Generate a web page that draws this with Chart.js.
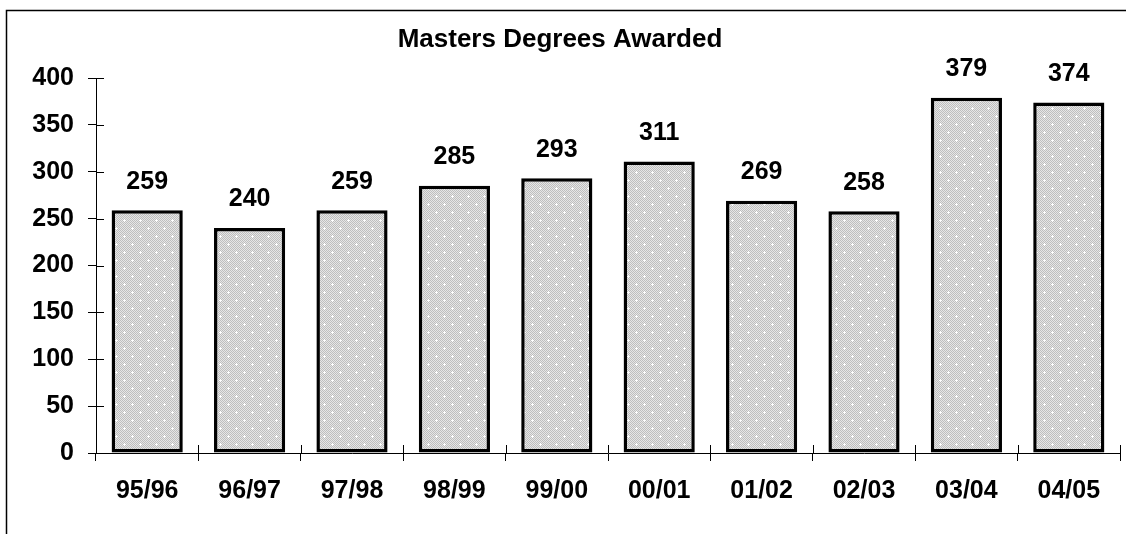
<html>
 <head>
  <title>Masters Degrees Awarded</title>
  <script src="https://cdn.jsdelivr.net/npm/chart.js@4.4.1/dist/chart.umd.min.js"></script>
  <style>
    body { margin: 0; background: #fff; }
  </style>
 </head>
 <body>
  <canvas id="myChart" width="1126" height="534"></canvas>

  <script type="text/javascript">
    // chart data
    var years = ['95/96', '96/97', '97/98', '98/99', '99/00', '00/01', '01/02', '02/03', '03/04', '04/05'];
    var degrees = [259, 240, 259, 285, 293, 311, 269, 258, 379, 374];
    var yTicks = [0, 50, 100, 150, 200, 250, 300, 350, 400];

    var fontFamily = '"Liberation Sans", Arial, sans-serif';

    // grey dotted fill like the old excel pattern
    function makePattern() {
      var c = document.createElement('canvas');
      c.width = 16; c.height = 16;
      var p = c.getContext('2d');
      for (var y = 0; y < 16; y++) {
        for (var x = 0; x < 16; x++) {
          p.fillStyle = ((x + y) % 2 == 0) ? '#bebebe' : '#e6e6e6';
          p.fillRect(x, y, 1, 1);
        }
      }
      p.fillStyle = '#ffffff';
      [[4, 4], [12, 12]].forEach(function (d) {
        p.fillRect(d[0] - 1, d[1], 3, 1);
        p.fillRect(d[0], d[1] - 1, 1, 3);
      });
      return p.createPattern(c, 'repeat');
    }

    // outer frame (left and top edges are the only ones visible)
    var framePlugin = {
      id: 'frame',
      beforeDraw: function (chart) {
        var ctx = chart.ctx;
        ctx.save();
        ctx.strokeStyle = '#000';
        ctx.lineWidth = 1.5;
        ctx.beginPath();
        ctx.moveTo(6.5, chart.height);
        ctx.lineTo(6.5, 10.5);
        ctx.lineTo(chart.width, 10.5);
        ctx.stroke();
        ctx.restore();
      }
    };

    // inner half of the crossing tick marks
    var crossTicks = {
      id: 'crossTicks',
      afterDraw: function (chart) {
        var ctx = chart.ctx, area = chart.chartArea;
        var xs = chart.scales.x, ys = chart.scales.y;
        ctx.save();
        ctx.strokeStyle = '#000';
        ctx.lineWidth = 1;
        ctx.beginPath();
        ys.ticks.forEach(function (t, i) {
          var y = Math.round(ys.getPixelForTick(i)) + 0.5;
          ctx.moveTo(area.left, y);
          ctx.lineTo(area.left + 8, y);
        });
        for (var i = 0; i <= years.length; i++) {
          var x = Math.round(xs.getPixelForValue(i - 0.5)) + 0.5;
          ctx.moveTo(x, area.bottom);
          ctx.lineTo(x, area.bottom - 8);
        }
        ctx.stroke();
        ctx.restore();
      }
    };

    // value labels above the bars
    var valueLabels = {
      id: 'valueLabels',
      afterDatasetsDraw: function (chart) {
        var ctx = chart.ctx;
        var meta = chart.getDatasetMeta(0);
        ctx.save();
        ctx.font = 'bold 25px ' + fontFamily;
        ctx.fillStyle = '#000';
        ctx.textAlign = 'center';
        ctx.textBaseline = 'middle';
        meta.data.forEach(function (bar, i) {
          ctx.fillText(degrees[i], bar.x, bar.y - 28.5);
        });
        ctx.restore();
      }
    };

    var ctx = document.getElementById('myChart').getContext('2d');
    var myChart = new Chart(ctx, {
      type: 'bar',
      data: {
        labels: years,
        datasets: [{
          data: degrees,
          backgroundColor: makePattern(),
          borderColor: '#000',
          borderWidth: 3.5,
          borderSkipped: false,
          barPercentage: 0.695,
          categoryPercentage: 1.0
        }]
      },
      options: {
        responsive: false,
        animation: false,
        layout: { padding: { left: 0, right: 6, top: 0, bottom: 0 } },
        plugins: {
          legend: { display: false },
          tooltip: { enabled: false },
          title: {
            display: true,
            text: 'Masters Degrees Awarded',
            color: '#000',
            font: { family: fontFamily, size: 26, weight: 'bold' },
            padding: { top: 24.5, bottom: 22.3 }
          }
        },
        scales: {
          x: {
            grid: { display: true, drawOnChartArea: false, drawTicks: true, tickLength: 8, color: '#000', offset: true },
            border: { display: true, color: '#000', width: 1 },
            ticks: { color: '#000', padding: 15, maxRotation: 0, font: { family: fontFamily, size: 25, weight: 'bold' } },
            afterFit: function (scale) { scale.height = 81; }
          },
          y: {
            min: 0,
            max: 400,
            afterBuildTicks: function (scale) {
              scale.ticks = yTicks.map(function (v) { return { value: v }; });
            },
            grid: { display: true, drawOnChartArea: false, drawTicks: true, tickLength: 8, color: '#000' },
            border: { display: true, color: '#000', width: 1 },
            ticks: { color: '#000', padding: 14, font: { family: fontFamily, size: 25, weight: 'bold' } },
            afterFit: function (scale) { scale.width = 96; }
          }
        }
      },
      plugins: [framePlugin, crossTicks, valueLabels]
    });
  </script>
 </body>
</html>
